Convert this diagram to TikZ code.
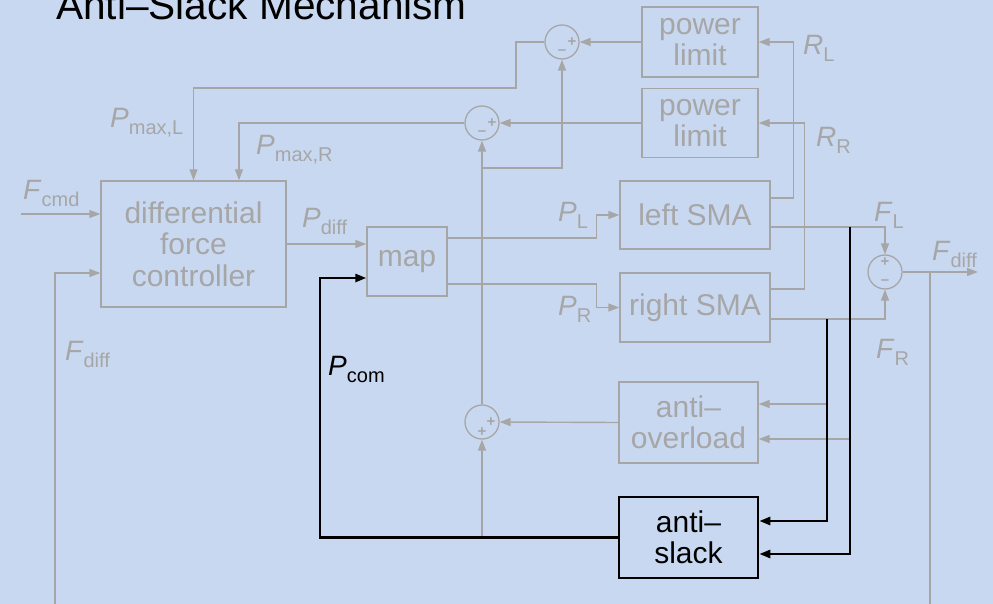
\documentclass[tikz,border=0pt]{standalone}
\usepackage{fontspec}
\setmainfont{Liberation Sans}
\usetikzlibrary{arrows.meta,calc}
\definecolor{bgc}{RGB}{201,216,241}
\definecolor{gc}{RGB}{166,166,166}
\newcommand\lb[2]{\textit{#1}\raisebox{-7pt}{\fontsize{20}{20}\selectfont #2}}
\begin{document}
\begin{tikzpicture}[x=1pt,y=-1pt,
  gl/.style={draw=gc,line width=1.4pt},
  ga/.style={gl,-{Triangle[length=11pt,width=8pt]}},
  ba/.style={draw=black,line width=2.6pt,-{Triangle[length=11pt,width=8pt]}},
  blk/.style={draw=gc,line width=1.4pt,text=gc,inner sep=0pt,align=center,font=\fontsize{30}{31.5}\selectfont},
  lab/.style={anchor=base west,inner sep=0pt,text=gc,font=\fontsize{28}{28}\selectfont},
  sm/.style={circle,draw=gc,line width=1.3pt,minimum size=34pt,inner sep=0pt},
  sg/.style={text=gc,inner sep=0pt,font=\fontsize{15}{15}\selectfont\bfseries}]
\useasboundingbox (0,0) rectangle (993,604);
\fill[bgc] (0,0) rectangle (993,604);
\begin{scope}
\clip (0,0) rectangle (993,604);
\node[lab,text=black,font=\fontsize{40.6}{41}\selectfont] (title) at (56,20) {Anti–Slack Mechanism};
% blocks
\node[blk,minimum width=185pt,minimum height=126pt] (ctrl) at (193.5,244) {differential\\force\\controller};
\node[blk,minimum width=80pt,minimum height=69pt] (map) at (407,261.5) {map};
\node[blk,minimum width=116pt,minimum height=70pt] (pl1) at (700,42) {power\\limit};
\node[blk,minimum width=116pt,minimum height=69pt] (pl2) at (700,123) {power\\limit};
\node[blk,minimum width=150pt,minimum height=68pt] (lsma) at (695,215) {left SMA};
\node[blk,minimum width=150pt,minimum height=69pt] (rsma) at (695,307.5) {right SMA};
\node[blk,minimum width=139pt,minimum height=81pt] (aov) at (688.5,422.5) {anti–\\overload};
\node[blk,draw=black,text=black,line width=2.6pt,minimum width=139pt,minimum height=81pt] (asl) at (688.5,537.5) {anti–\\slack};
% sums
\node[sm] (s1) at (562,42) {};
\node[sm] (s2) at (482,123) {};
\node[sm] (s3) at (482,422) {};
\node[sm] (s4) at (885,272) {};
\node[sg] (s1p) at ($(s1)+(10,0)$) {+};
\node[sg] (s1m) at ($(s1)+(0,10)$) {–};
\node[sg] (s2p) at ($(s2)+(10,0)$) {+};
\node[sg] (s2m) at ($(s2)+(0,10)$) {–};
\node[sg] (s3p) at ($(s3)+(9,0)$) {+};
\node[sg] (s3q) at ($(s3)+(0,10)$) {+};
\node[sg] (s4p) at ($(s4)+(0,-10)$) {+};
\node[sg] (s4m) at ($(s4)+(0,10)$) {–};
% labels
\node[lab] (lfcmd) at (23,200) {\lb{F}{cmd}};
\node[lab] (lpmaxl) at (110,128) {\lb{P}{max,L}};
\node[lab] (lpmaxr) at (256,155) {\lb{P}{max,R}};
\node[lab] (lpdiff) at (302,227) {\lb{P}{diff}};
\node[lab] (lpl) at (558,222) {\lb{P}{L}};
\node[lab] (lpr) at (558,315) {\lb{P}{R}};
\node[lab] (lrl) at (803,55) {\lb{R}{L}};
\node[lab] (lrr) at (816,147) {\lb{R}{R}};
\node[lab] (lfl) at (874,222) {\lb{F}{L}};
\node[lab] (lfr) at (876,358) {\lb{F}{R}};
\node[lab] (lfdo) at (932,260) {\lb{F}{diff}};
\node[lab] (lfdi) at (65,360) {\lb{F}{diff}};
\node[lab,text=black] (lpcom) at (328,375) {\lb{P}{com}};
% coordinates
\coordinate (fcmd) at (21,214);
\coordinate (br) at (482,168);
\coordinate (pj) at (482,537.5);
\coordinate (fout) at (978,272);
\coordinate (fb) at (930,272);
\coordinate (gR) at (827,404);
\coordinate (gL) at (850,439);
\coordinate (tapL) at (850,227);
\coordinate (tapR) at (827,319);
% gray connectors
\draw[ga] (fcmd) -- (fcmd -| ctrl.west);
\draw[ga] (ctrl.east) -- (ctrl.east -| map.west);
\draw[ga] ($(map.east)+(0,-23.5)$) -| ($(lsma.west)+(-23,0)$) -- (lsma.west);
\draw[ga] ($(map.east)+(0,22.5)$) -| ($(rsma.west)+(-23,0)$) -- (rsma.west);
\draw[ga] ($(lsma.east)+(0,-17)$) -| ($(pl1.east)+(35,0)$) -- (pl1.east);
\draw[ga] ($(rsma.east)+(0,-18.5)$) -| ($(pl2.east)+(46,0)$) -- (pl2.east);
\draw[ga] (pl1.west) -- (s1.east);
\draw[ga] (pl2.west) -- (s2.east);
\draw[ga] (s1.west) -| (516,88) -| (ctrl.north);
\draw[ga] (s2.west) -| ($(ctrl.north)+(45.5,0)$);
\draw[ga] (s3.north) -- (s2.south);
\draw[ga] (br) -| (s1.south);
\draw[ga] (aov.west) -- (s3.east);
\draw[ga] (pj) -- (s3.south);
\draw[ga] ($(lsma.east)+(0,12)$) -| (s4.north);
\draw[ga] ($(rsma.east)+(0,11.5)$) -| (s4.south);
\draw[ga] (s4.east) -- (fout);
\draw[ga] (fb) -- (930,650) -| (55,273) -- ($(ctrl.west)+(0,29)$);
\draw[ga] (gR) -- (gR -| aov.east);
\draw[ga] (gL) -- (gL -| aov.east);
% black connectors
\draw[ba] (tapL) |- ($(asl.east)+(0,16.5)$);
\draw[ba] (tapR) |- ($(asl.east)+(0,-16.5)$);
\draw[ba] (asl.west) -| (320,278) -- ($(map.west)+(0,16.5)$);
\end{scope}
\end{tikzpicture}
\end{document}
